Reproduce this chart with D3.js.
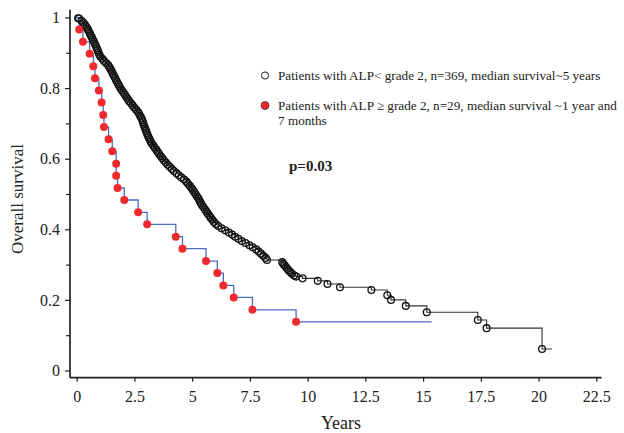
<!DOCTYPE html>
<html>
<head>
<meta charset="utf-8">
<script src="https://cdn.jsdelivr.net/npm/d3@7"></script>
<style>
	body { margin: 0; background: #fff; }
	text { font-family: "Liberation Serif", "Times New Roman", serif; fill: #222; }
</style>
</head>
<body>
<div id="chart"></div>
<script>
// ALP < grade 2 (n=369), event times in years and survival after each event
var lowTimes = [0.06,0.10,0.21,0.29,0.36,0.42,0.48,0.52,0.57,0.61,
	0.66,0.70,0.75,0.79,0.83,0.87,0.91,0.94,0.98,1.03,
	1.11,1.18,1.27,1.36,1.42,1.47,1.52,1.56,1.61,1.66,
	1.70,1.75,1.80,1.85,1.90,1.96,2.03,2.09,2.15,2.21,
	2.27,2.35,2.42,2.49,2.57,2.65,2.70,2.75,2.80,2.84,
	2.87,2.90,2.93,2.97,3.00,3.04,3.07,3.11,3.16,3.20,
	3.25,3.32,3.38,3.45,3.51,3.57,3.64,3.71,3.78,3.86,
	3.94,4.03,4.12,4.21,4.32,4.42,4.53,4.65,4.75,4.82,
	4.90,4.97,5.03,5.09,5.15,5.21,5.27,5.32,5.37,5.42,
	5.48,5.55,5.61,5.67,5.74,5.80,5.87,5.94,6.02,6.13,
	6.27,6.43,6.59,6.73,6.86,7.00,7.15,7.31,7.48,7.62,
	7.77,7.88,7.98,8.08,8.18,8.24,
	8.90,8.95,9.00,9.06,9.12,9.18,9.25,9.32,9.42,9.50,
	9.78,10.44,10.86,11.40,12.76,13.45,13.61,14.25,15.16,17.37,17.75,20.15];
var lowSurv = [0.998,0.997,0.991,0.985,0.979,0.973,0.967,0.961,0.955,0.949,
	0.943,0.937,0.931,0.925,0.919,0.913,0.907,0.901,0.895,0.889,
	0.883,0.877,0.871,0.865,0.859,0.853,0.847,0.841,0.835,0.829,
	0.823,0.817,0.811,0.805,0.799,0.793,0.787,0.781,0.775,0.769,
	0.763,0.757,0.751,0.745,0.739,0.733,0.727,0.721,0.715,0.709,
	0.703,0.697,0.691,0.685,0.679,0.673,0.667,0.661,0.655,0.649,
	0.643,0.637,0.631,0.625,0.619,0.613,0.607,0.601,0.595,0.589,
	0.583,0.577,0.571,0.565,0.559,0.553,0.547,0.541,0.535,0.529,
	0.523,0.517,0.511,0.505,0.499,0.493,0.487,0.481,0.475,0.469,
	0.463,0.457,0.451,0.445,0.439,0.433,0.427,0.421,0.415,0.409,
	0.403,0.397,0.391,0.385,0.379,0.373,0.367,0.361,0.355,0.349,
	0.343,0.337,0.331,0.325,0.319,0.313,
	0.307,0.302,0.298,0.293,0.288,0.283,0.279,0.274,0.269,0.266,
	0.261,0.254,0.245,0.236,0.228,0.213,0.200,0.183,0.165,0.143,0.120,0.061];
var lowEnd = 20.58;

// ALP >= grade 2 (n=29)
var highTimes = [0.11,0.27,0.56,0.72,0.79,0.96,1.08,1.15,1.18,1.38,1.54,1.71,1.71,
	1.77,2.06,2.66,3.05,4.29,4.58,5.60,6.09,6.35,6.80,7.61,9.50];
var highSurv = [0.966,0.931,0.897,0.862,0.828,0.793,0.759,0.724,0.690,0.655,0.621,0.586,0.552,
	0.517,0.483,0.448,0.414,0.379,0.345,0.310,0.276,0.241,0.207,0.172,0.138];
var highEnd = 15.37;

var xTicks = [0, 2.5, 5, 7.5, 10, 12.5, 15, 17.5, 20, 22.5];
var yTicks = [0, 0.2, 0.4, 0.6, 0.8, 1];
var yMinor = [0.1, 0.3, 0.5, 0.7, 0.9];

var legendLow = "Patients with ALP< grade 2, n=369, median survival~5 years";
var legendHigh = ["Patients with ALP \u2265 grade 2, n=29, median survival ~1 year and", "7 months"];
var pText = "p=0.03";

var width = 624,
	height = 433;

var x = d3.scaleLinear()
	.domain([0, 22.5])
	.range([76.7, 596.3]);

var y = d3.scaleLinear()
	.domain([0, 1])
	.range([370.5, 17.5]);

var axisY = 377.7,
	axisX = 70;

var svg = d3.select("#chart").append("svg")
	.attr("width", width)
	.attr("height", height);

// axes
svg.append("line")
	.attr("x1", axisX).attr("x2", x(22.73))
	.attr("y1", axisY).attr("y2", axisY)
	.attr("stroke", "#222").attr("stroke-width", 1.7);

svg.append("line")
	.attr("x1", axisX).attr("x2", axisX)
	.attr("y1", y(1.022)).attr("y2", axisY)
	.attr("stroke", "#222").attr("stroke-width", 1.7);

var xAxis = d3.axisBottom(x)
	.tickValues(xTicks)
	.tickSize(4)
	.tickPadding(9)
	.tickFormat(d3.format("~g"));

var gx = svg.append("g")
	.attr("transform", "translate(0," + axisY + ")")
	.call(xAxis);
gx.select(".domain").remove();
gx.selectAll("line").attr("stroke", "#222").attr("stroke-width", 1.2);
gx.selectAll("text")
	.attr("fill", "#222")
	.style("font-size", "16px")
	.style("font-family", "'Liberation Serif', serif");

var yAxis = d3.axisLeft(y)
	.tickValues(yTicks)
	.tickSize(5)
	.tickPadding(5)
	.tickFormat(d3.format("~g"));

var gy = svg.append("g")
	.attr("transform", "translate(" + axisX + ",0)")
	.call(yAxis);
gy.select(".domain").remove();
gy.selectAll("line").attr("stroke", "#222").attr("stroke-width", 1.2);
gy.selectAll("text")
	.attr("fill", "#222")
	.style("font-size", "16px")
	.style("font-family", "'Liberation Serif', serif");

var gyMinor = svg.append("g")
	.attr("transform", "translate(" + axisX + ",0)")
	.call(d3.axisLeft(y).tickValues(yMinor).tickSize(4).tickFormat(""));
gyMinor.select(".domain").remove();
gyMinor.selectAll("line").attr("stroke", "#222").attr("stroke-width", 1.2);

// axis titles
svg.append("text")
	.attr("x", 341)
	.attr("y", 429)
	.attr("text-anchor", "middle")
	.style("font-size", "18px")
	.text("Years");

svg.append("text")
	.attr("transform", "translate(23,199) rotate(-90)")
	.attr("text-anchor", "middle")
	.style("font-size", "17px")
	.text("Overall survival");

// survival curves
var step = d3.line()
	.x(function(d) { return x(d.t); })
	.y(function(d) { return y(d.s); })
	.curve(d3.curveStepAfter);

function curve(times, surv, end) {
	var pts = [{ t: 0, s: 1 }];
	times.forEach(function(t, i) { pts.push({ t: t, s: surv[i] }); });
	pts.push({ t: end, s: surv[surv.length - 1] });
	return pts;
}

var lowData = curve(lowTimes, lowSurv, lowEnd);
var highData = curve(highTimes, highSurv, highEnd);

svg.append("path")
	.datum(lowData)
	.attr("d", step)
	.attr("fill", "none")
	.attr("stroke", "#333")
	.attr("stroke-width", 1.1);

svg.append("path")
	.datum(highData)
	.attr("d", step)
	.attr("fill", "none")
	.attr("stroke", "#4a6cc2")
	.attr("stroke-width", 1.3);

svg.append("g")
	.selectAll("circle")
	.data(lowTimes)
	.enter().append("circle")
	.attr("cx", function(d) { return x(d); })
	.attr("cy", function(d, i) { return y(lowSurv[i]); })
	.attr("r", 3.4)
	.attr("fill", "none")
	.attr("stroke", "#111")
	.attr("stroke-width", 1.3);

svg.append("g")
	.selectAll("circle")
	.data(highTimes)
	.enter().append("circle")
	.attr("cx", function(d) { return x(d); })
	.attr("cy", function(d, i) { return y(highSurv[i]); })
	.attr("r", 4)
	.attr("fill", "#ee2a2f");

// legend
svg.append("circle")
	.attr("cx", 265).attr("cy", 75.5).attr("r", 3.6)
	.attr("fill", "#fff").attr("stroke", "#222").attr("stroke-width", 1);

svg.append("text")
	.attr("x", 278).attr("y", 79.5)
	.style("font-size", "13.2px")
	.text(legendLow);

svg.append("circle")
	.attr("cx", 265).attr("cy", 105.5).attr("r", 4)
	.attr("fill", "#e8262c").attr("stroke", "#333").attr("stroke-width", 0.7);

svg.append("text")
	.attr("x", 278).attr("y", 109.5)
	.style("font-size", "13.2px")
	.selectAll("tspan")
	.data(legendHigh)
	.enter().append("tspan")
	.attr("x", 278)
	.attr("dy", function(d, i) { return i ? 15 : 0; })
	.text(function(d) { return d; });

svg.append("text")
	.attr("x", 289).attr("y", 171)
	.style("font-size", "15px")
	.style("font-weight", "bold")
	.text(pText);
</script>
</body>
</html>
